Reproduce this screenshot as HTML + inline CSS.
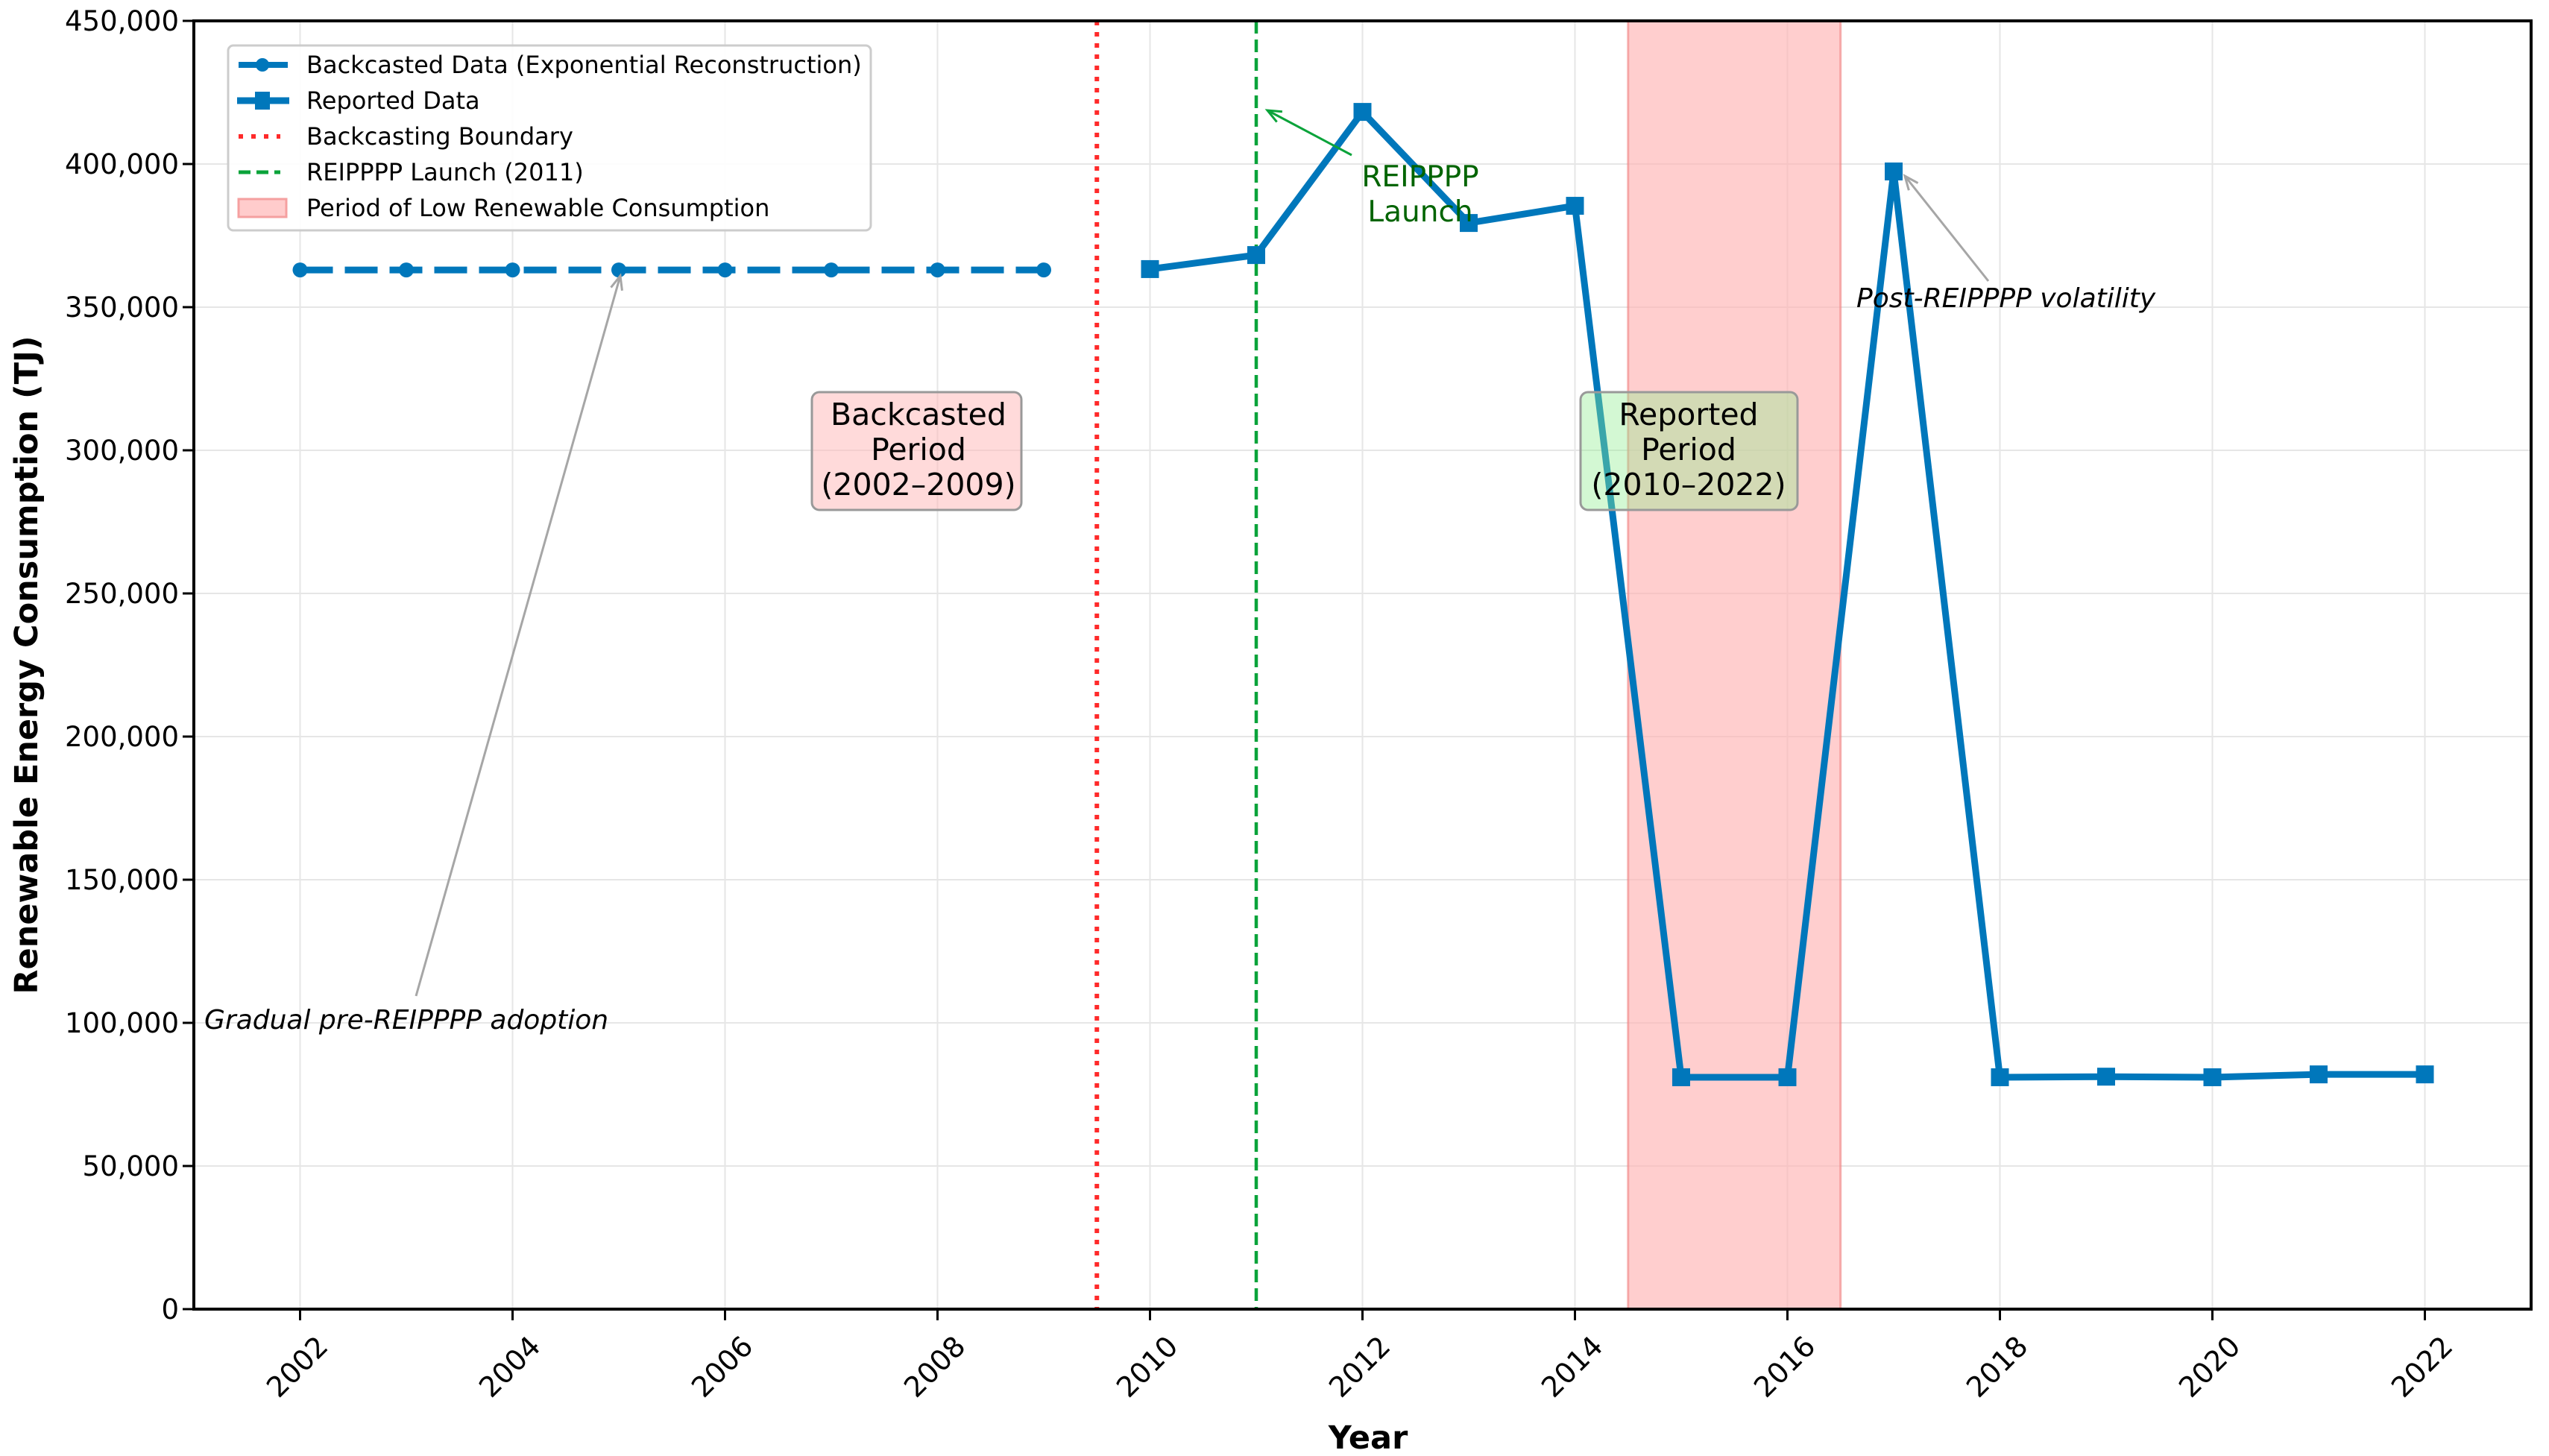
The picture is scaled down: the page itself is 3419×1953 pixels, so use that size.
<!DOCTYPE html>
<html><head><meta charset="utf-8"><style>
html,body{margin:0;padding:0;background:#fff;}
svg{display:block;font-family:"DejaVu Sans","Liberation Sans",sans-serif;}
</style></head><body>
<svg id="chart" width="3419" height="1953" viewBox="0 0 3419 1953" xmlns="http://www.w3.org/2000/svg">
<g id="grid"></g>
<rect id="shade" fill="#ffb3b3" fill-opacity="0.65" stroke="#f08080" stroke-opacity="0.6" stroke-width="3"/>
<line id="boundary" stroke="#ff2a2a" stroke-width="6" stroke-dasharray="6,9"/>
<line id="launch" stroke="#0aa33a" stroke-width="4.5" stroke-dasharray="17,8"/>
<g id="series"></g>
<g id="annots"></g>
<g id="axes"></g>
<g>
  <rect x="306" y="61" width="862" height="248" rx="7" fill="#fff" fill-opacity="0.9" stroke="#cccccc" stroke-width="3"/>
  <g>
    <line x1="320" y1="87" x2="386" y2="87" stroke="#0077bb" stroke-width="8" stroke-dasharray="30,10"/>
    <circle cx="352" cy="87" r="9" fill="#0077bb"/>
    <text x="411" y="98" font-size="32">Backcasted Data (Exponential Reconstruction)</text>
  </g>
  <g>
    <line x1="318" y1="135" x2="388" y2="135" stroke="#0077bb" stroke-width="9"/>
    <rect x="342" y="123" width="20" height="24" fill="#0077bb"/>
    <text x="411" y="146" font-size="32">Reported Data</text>
  </g>
  <g>
    <line x1="320" y1="183" x2="376" y2="183" stroke="#ff2a2a" stroke-width="6" stroke-dasharray="6,11"/>
    <text x="411" y="194" font-size="32">Backcasting Boundary</text>
  </g>
  <g>
    <line x1="320" y1="231" x2="376" y2="231" stroke="#0aa33a" stroke-width="5" stroke-dasharray="16,8"/>
    <text x="411" y="242" font-size="32">REIPPPP Launch (2011)</text>
  </g>
  <g>
    <rect x="320" y="267" width="64" height="24" fill="#ffcccc" stroke="#f5a0a0" stroke-width="3"/>
    <text x="411" y="290" font-size="32">Period of Low Renewable Consumption</text>
  </g>
</g>
</svg>
<script>
const backYears = [2002,2003,2004,2005,2006,2007,2008,2009];
const backValues = [363000,363000,363000,363000,363000,363000,363000,363000];
const repYears = [2010,2011,2012,2013,2014,2015,2016,2017,2018,2019,2020,2021,2022];
const repValues = [363300,368200,418200,379400,385400,81000,81000,397400,81000,81200,81000,82000,82000];
const xTicks = [2002,2004,2006,2008,2010,2012,2014,2016,2018,2020,2022];
const yTicks = [0,50000,100000,150000,200000,250000,300000,350000,400000,450000];
const boundaryYear = [2009.5];
const launchYear = [2011];
const lowPeriod = [2014.5,2016.5];

const L=260,R=3395,T=28,B=1756,X0=2001,X1=2023,Y1=450000;
const sx=v=>L+(v-X0)/(X1-X0)*(R-L);
const sy=v=>B-v/Y1*(B-T);
const NS='http://www.w3.org/2000/svg';
function mk(tag,attrs,parent){const e=document.createElementNS(NS,tag);for(const k in attrs)e.setAttribute(k,attrs[k]);parent.appendChild(e);return e;}
const grid=document.getElementById('grid'),axes=document.getElementById('axes'),series=document.getElementById('series'),ann=document.getElementById('annots');

xTicks.forEach(t=>{
  const g=mk('line',{x1:sx(t),x2:sx(t),y1:T,y2:B,stroke:'#e6e6e6','stroke-width':2},grid);
  
  
  const tk=mk('line',{x1:sx(t),x2:sx(t),y1:B,y2:B+15,stroke:'#000','stroke-width':3},axes);
  
  
  const tx=mk('text',{x:0,y:0,'font-size':38,'text-anchor':'middle','dominant-baseline':'middle',transform:`translate(${sx(t)-2},1835) rotate(-45)`},axes);
  tx.textContent=t;
  
  
});
yTicks.forEach(t=>{
  if(t>0&&t<Y1){const g=mk('line',{x1:L,x2:R,y1:sy(t),y2:sy(t),stroke:'#e6e6e6','stroke-width':2},grid);
  
  }
  const tk=mk('line',{x1:L-15,x2:L,y1:sy(t),y2:sy(t),stroke:'#000','stroke-width':3},axes);
  
  
  const tx=mk('text',{x:L-20,y:sy(t)+13,'font-size':37,'text-anchor':'end'},axes);
  tx.textContent=t.toLocaleString('en-US');
  
  
});
const frame=mk('rect',{x:L,y:T,width:R-L,height:B-T,fill:'none',stroke:'#000','stroke-width':4},axes);


const yl=mk('text',{x:0,y:0,'font-size':43,'font-weight':'bold','text-anchor':'middle',transform:'translate(50,892) rotate(-90)'},axes);
yl.textContent='Renewable Energy Consumption (TJ)';


const xl=mk('text',{x:1835,y:1943,'font-size':43,'font-weight':'bold','text-anchor':'middle'},axes);
xl.textContent='Year';



const sh=document.getElementById('shade');
sh.setAttribute('x',sx(lowPeriod[0]));sh.setAttribute('width',sx(lowPeriod[1])-sx(lowPeriod[0]));
sh.setAttribute('y',T);sh.setAttribute('height',B-T);
const bd=document.getElementById('boundary');
bd.setAttribute('x1',sx(boundaryYear[0]));bd.setAttribute('x2',sx(boundaryYear[0]));bd.setAttribute('y1',T);bd.setAttribute('y2',B);
const ln=document.getElementById('launch');
ln.setAttribute('x1',sx(launchYear[0]));ln.setAttribute('x2',sx(launchYear[0]));ln.setAttribute('y1',T);ln.setAttribute('y2',B);

const bp=mk('polyline',{points:backYears.map((y,i)=>sx(y)+','+sy(backValues[i])).join(' '),fill:'none',stroke:'#0077bb','stroke-width':9,'stroke-dasharray':'44,16'},series);


backYears.forEach((y,i)=>{
  const c=mk('circle',{cx:sx(y),cy:sy(backValues[i]),r:10,fill:'#0077bb'},series);
  
  
});
const rp=mk('polyline',{points:repYears.map((y,i)=>sx(y)+','+sy(repValues[i])).join(' '),fill:'none',stroke:'#0077bb','stroke-width':9,'stroke-linejoin':'round'},series);


repYears.forEach((y,i)=>{
  const r=mk('rect',{x:sx(y)-12,y:sy(repValues[i])-12,width:24,height:24,fill:'#0077bb'},series);
  
  
});

function arrow(x1,y1,x2,y2,col,name){
  const g=mk('g',{},ann);
  
  
  mk('line',{x1,y1,x2,y2,stroke:col,'stroke-width':3},g);
  const a=Math.atan2(y2-y1,x2-x1),h=20;
  const p=(d)=>`${x2-h*Math.cos(a+d)},${y2-h*Math.sin(a+d)}`;
  mk('polyline',{points:`${p(0.4)} ${x2},${y2} ${p(-0.4)}`,fill:'none',stroke:col,'stroke-width':3},g);
}
arrow(1813,208,1700,148,'#0aa33a','launch-arrow');
arrow(2667,377,2555,236,'#a6a6a6','volatility-arrow');
arrow(558,1336,832,370,'#a6a6a6','adoption-arrow');

function txt(x,y,s,attrs,name){const t=mk('text',Object.assign({x,y,'font-size':41},attrs),ann);t.textContent=s;
  
  return t;}
txt(1905,250,'REIPPPP',{fill:'#006400','text-anchor':'middle','font-size':39},'launch-label-line1');
txt(1905,297,'Launch',{fill:'#006400','text-anchor':'middle','font-size':39},'launch-label-line2');
txt(2490,412,'Post-REIPPPP volatility',{'font-style':'italic','font-size':36},'volatility-label');
txt(274,1380,'Gradual pre-REIPPPP adoption',{'font-style':'italic','font-size':36},'adoption-label');

const b1=mk('rect',{x:1089,y:526,width:281,height:158,rx:10,fill:'#ffb6b6','fill-opacity':0.5,stroke:'#999','stroke-width':3},ann);


txt(1232,570,'Backcasted',{'text-anchor':'middle'},'backcasted-box-line1');
txt(1232,617,'Period',{'text-anchor':'middle'},'backcasted-box-line2');
txt(1232,664,'(2002\u20132009)',{'text-anchor':'middle'},'backcasted-box-line3');
const b2=mk('rect',{x:2120,y:526,width:291,height:158,rx:10,fill:'#90ee90','fill-opacity':0.4,stroke:'#999','stroke-width':3},ann);


txt(2265,570,'Reported',{'text-anchor':'middle'},'reported-box-line1');
txt(2265,617,'Period',{'text-anchor':'middle'},'reported-box-line2');
txt(2265,664,'(2010\u20132022)',{'text-anchor':'middle'},'reported-box-line3');
</script>
</body></html>
